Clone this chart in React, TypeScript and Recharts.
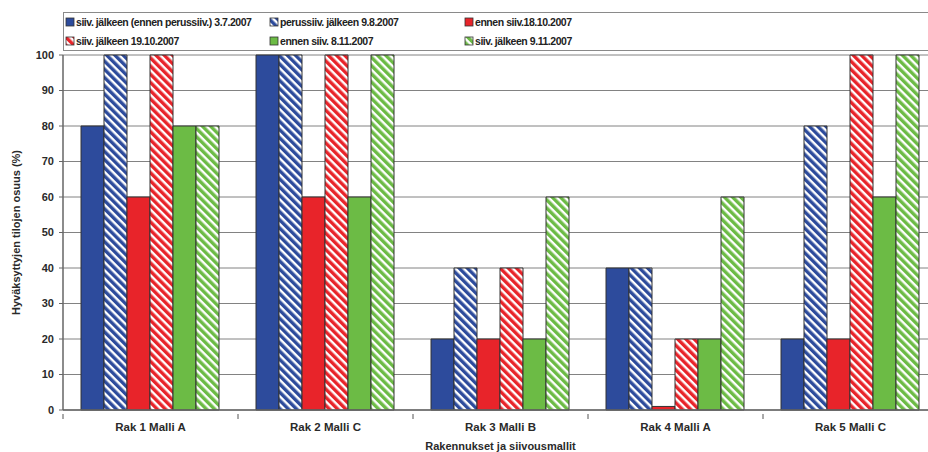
import { BarChart, Bar, XAxis, YAxis, CartesianGrid, Label } from "recharts";

const categories = ["Rak 1 Malli A", "Rak 2 Malli C", "Rak 3 Malli B", "Rak 4 Malli A", "Rak 5 Malli C"];

const seriesNames = [
  "siiv. jälkeen (ennen perussiiv.) 3.7.2007",
  "perussiiv. jälkeen 9.8.2007",
  "ennen siiv.18.10.2007",
  "siiv. jälkeen 19.10.2007",
  "ennen siiv. 8.11.2007",
  "siiv. jälkeen 9.11.2007",
];

const blueBefore = [80, 100, 20, 40, 20];
const blueAfter = [100, 100, 40, 40, 80];
const redBefore = [60, 60, 20, 1, 20];
const redAfter = [100, 100, 40, 20, 100];
const greenBefore = [80, 60, 20, 20, 60];
const greenAfter = [80, 100, 60, 60, 100];

const yTicks = [0, 10, 20, 30, 40, 50, 60, 70, 80, 90, 100];

const BLUE = "#2d4b9c";
const RED = "#e8242a";
const GREEN = "#6cbb45";
const FONT = "'Liberation Sans', Arial, sans-serif";

const seriesValues = [blueBefore, blueAfter, redBefore, redAfter, greenBefore, greenAfter];
const seriesColors = [BLUE, BLUE, RED, RED, GREEN, GREEN];
const seriesHatched = [false, true, false, true, false, true];

const data = categories.map((name, i) => {
  const row: Record<string, string | number> = { name };
  seriesValues.forEach((vals, s) => {
    row["s" + s] = vals[i];
  });
  return row;
});

const fillFor = (s: number) =>
  seriesHatched[s] ? `url(#hatch${s})` : seriesColors[s];

function Hatch({ id, color }: { id: string; color: string }) {
  return (
    <pattern
      id={id}
      width="5.8"
      height="5.8"
      patternUnits="userSpaceOnUse"
      patternTransform="rotate(-45)"
    >
      <rect width="5.8" height="5.8" fill="#fff" />
      <rect width="3.4" height="5.8" fill={color} />
    </pattern>
  );
}

// x-axis label plus a tick mark on each category boundary
function CategoryTick(props: any) {
  const { x, y, payload, index } = props;
  const half = payload.offset ?? 0;
  return (
    <g>
      <line x1={x - half} x2={x - half} y1={y - 4} y2={y + 1} stroke="#555" />
      {index === categories.length - 1 && (
        <line x1={x + half} x2={x + half} y1={y - 4} y2={y + 1} stroke="#555" />
      )}
      <text
        x={x}
        y={y + 13}
        textAnchor="middle"
        fontFamily={FONT}
        fontWeight="bold"
        fontSize={11.5}
        fill="#2a2a2a"
      >
        {payload.value}
      </text>
    </g>
  );
}

function LegendBox() {
  const cols = [66, 270, 465];
  return (
    <div
      style={{
        position: "absolute",
        left: 63,
        top: 12,
        width: 900,
        height: 39,
        border: "1px solid #8a8a8a",
        background: "#fff",
        boxSizing: "border-box",
      }}
    >
      <svg width={900} height={38} style={{ display: "block" }}>
        <defs>
          {seriesNames.map((_, s) =>
            seriesHatched[s] ? <Hatch key={s} id={`lg${s}`} color={seriesColors[s]} /> : null
          )}
        </defs>
        {seriesNames.map((n, s) => {
          const x = cols[s % 3] - 63;
          const y = s < 3 ? 9 : 28;
          return (
            <g key={n}>
              <rect
                x={x - 1}
                y={y - 4}
                width={8}
                height={8}
                fill={seriesHatched[s] ? `url(#lg${s})` : seriesColors[s]}
                stroke="#333"
                strokeWidth={0.8}
              />
              <text
                x={x + 9}
                y={y + 4}
                fontFamily={FONT}
                fontWeight="bold"
                fontSize={10.5}
                letterSpacing={-0.45}
                fill="#222"
              >
                {n}
              </text>
            </g>
          );
        })}
      </svg>
    </div>
  );
}

export default function App() {
  return (
    <div
      style={{
        position: "absolute",
        left: 0,
        top: 0,
        width: 928,
        height: 452,
        overflow: "hidden",
        background: "#fff",
      }}
    >
      <BarChart
        width={945}
        height={452}
        data={data}
        margin={{ top: 55, right: 7, bottom: 0, left: 0 }}
        barCategoryGap={18}
        barGap={0}
      >
        <defs>
          {seriesNames.map((_, s) =>
            seriesHatched[s] ? <Hatch key={s} id={`hatch${s}`} color={seriesColors[s]} /> : null
          )}
        </defs>
        <CartesianGrid vertical={false} stroke="#828282" strokeWidth={1} />
        <XAxis
          dataKey="name"
          height={42}
          tickLine={false}
          axisLine={{ stroke: "#666", strokeWidth: 1.5 }}
          tick={<CategoryTick />}
          interval={0}
        >
          <Label
            value="Rakennukset ja siivousmallit"
            position="insideBottom"
            offset={2}
            style={{ fontFamily: FONT, fontWeight: "bold", fontSize: 11, fill: "#2a2a2a" }}
          />
        </XAxis>
        <YAxis
          width={63}
          domain={[0, 100]}
          ticks={yTicks}
          interval={0}
          tickSize={4}
          tickMargin={5}
          tickLine={{ stroke: "#666" }}
          axisLine={{ stroke: "#666", strokeWidth: 1.5 }}
          tick={{ fontFamily: FONT, fontWeight: "bold", fontSize: 11, fill: "#2a2a2a" }}
        >
          <Label
            value="Hyväksyttyjen tilojen osuus (%)"
            angle={-90}
            position="insideLeft"
            offset={16}
            style={{
              textAnchor: "middle",
              fontFamily: FONT,
              fontWeight: "bold",
              fontSize: 11,
              fill: "#2a2a2a",
            }}
          />
        </YAxis>
        {seriesNames.map((n, s) => (
          <Bar
            key={n}
            name={n}
            dataKey={"s" + s}
            fill={fillFor(s)}
            stroke="#333"
            strokeWidth={1}
            isAnimationActive={false}
          />
        ))}
      </BarChart>
      <LegendBox />
    </div>
  );
}
